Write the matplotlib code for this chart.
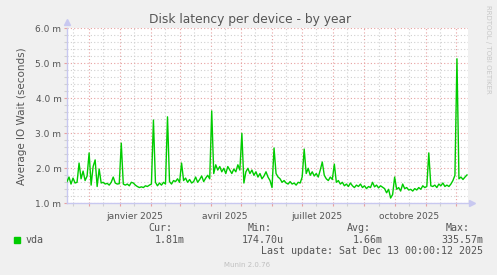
import numpy as np
import pandas as pd
import matplotlib
matplotlib.use("Agg")
import matplotlib.pyplot as plt
import matplotlib.dates as mdates
from matplotlib.ticker import MultipleLocator, FuncFormatter
from matplotlib.patches import Rectangle

# Data (IO wait in milliseconds, one sample every 2 days)
start_date = "2024-11-09"
end_date = "2025-12-13"
vda = [
    1.62, 1.75, 1.55, 1.72, 1.58, 1.60, 2.15, 1.70, 1.92, 1.65,
    1.78, 2.44, 1.52, 2.05, 2.24, 1.48, 1.98, 1.58, 1.60, 1.55,
    1.57, 1.52, 1.60, 1.75, 1.58, 1.55, 1.56, 2.72, 1.55, 1.52,
    1.55, 1.50, 1.60, 1.58, 1.52, 1.48, 1.45, 1.47, 1.45, 1.50,
    1.48, 1.52, 1.55, 3.38, 1.60, 1.50, 1.58, 1.52, 1.60, 1.55,
    3.47, 1.62, 1.55, 1.65, 1.62, 1.70, 1.60, 2.15, 1.65, 1.72,
    1.60, 1.68, 1.58, 1.62, 1.75, 1.60, 1.68, 1.78, 1.62, 1.72,
    1.80, 1.70, 3.64, 1.85, 2.10, 1.95, 2.05, 1.90, 2.00, 1.85,
    2.05, 1.95, 1.85, 1.98, 1.90, 2.10, 1.95, 3.00, 1.58, 1.90,
    2.00, 1.85, 1.95, 1.80, 1.90, 1.75, 1.85, 1.70, 1.78, 1.90,
    1.75, 1.65, 1.45, 2.58, 1.85, 1.75, 1.70, 1.60, 1.65, 1.58,
    1.55, 1.62, 1.55, 1.58, 1.52, 1.60, 1.58, 1.75, 2.55, 1.85,
    2.00, 1.80, 1.90, 1.78, 1.85, 1.75, 1.95, 2.18, 1.80, 1.70,
    1.65, 1.75, 1.68, 2.12, 1.60, 1.65, 1.55, 1.60, 1.50, 1.55,
    1.48, 1.58, 1.50, 1.45, 1.52, 1.48, 1.55, 1.45, 1.50, 1.42,
    1.48, 1.45, 1.60, 1.47, 1.52, 1.44, 1.50, 1.46, 1.42, 1.30,
    1.40, 1.15, 1.25, 1.75, 1.40, 1.45, 1.35, 1.55, 1.42, 1.45,
    1.38, 1.40, 1.35, 1.42, 1.38, 1.45, 1.40, 1.50, 1.45, 1.48,
    2.44, 1.50, 1.48, 1.52, 1.45, 1.55, 1.50, 1.58, 1.48, 1.52,
    1.48, 1.55, 1.65, 1.80, 5.13, 1.70, 1.75, 1.68, 1.75, 1.81,
]
label_months = [1, 4, 7, 10]
month_names = {1: "janvier", 4: "avril", 7: "juillet", 10: "octobre"}
legend_headers = ["Cur:", "Min:", "Avg:", "Max:"]
legend_values = ["1.81m", "174.70u", "1.66m", "335.57m"]

dates = pd.date_range(start_date, periods=len(vda), freq="2D")

bg = "#f0f0f0"
fig = plt.figure(figsize=(4.97, 2.75), dpi=100, facecolor=bg)
ax = fig.add_axes([67 / 497, 1 - 203.3 / 275, 401 / 497, 175 / 275])
ax.set_facecolor("white")

ax.plot(dates, vda, color="#00cc00", lw=1.0, zorder=3)

ax.set_xlim(pd.Timestamp(start_date), pd.Timestamp(end_date))
ax.set_ylim(1.0, 6.0)

# y grid
ax.yaxis.set_major_locator(MultipleLocator(1.0))
ax.yaxis.set_minor_locator(MultipleLocator(0.2))
ax.yaxis.set_major_formatter(FuncFormatter(lambda v, p: "%.1f m" % v))

# x grid: month starts (major), mid-month (minor, labelled quarterly)
ax.xaxis.set_major_locator(mdates.MonthLocator())
ax.xaxis.set_minor_locator(mdates.MonthLocator(bymonthday=15))
ax.xaxis.set_major_formatter(FuncFormatter(lambda v, p: ""))


def minor_label(v, p):
    d = mdates.num2date(v)
    if d.month in label_months:
        return "%s %d" % (month_names[d.month], d.year)
    return ""


ax.xaxis.set_minor_formatter(FuncFormatter(minor_label))

ax.grid(which="major", color="#e8a0a0", ls=(0, (1, 2)), lw=0.8, zorder=1)
ax.grid(which="minor", color="#d0d0d0", ls=(0, (1, 2)), lw=0.8, zorder=1)

ax.tick_params(which="both", length=2, width=0.8, colors="#e8a0a0",
               labelcolor="#555555", labelsize=6.5, pad=2)
ax.tick_params(axis="y", which="minor", length=2, colors="#d0d0d0")
ax.tick_params(axis="x", which="minor", length=2, colors="#d0d0d0",
               labelcolor="#555555", labelsize=6.5, pad=4)

for s in ["top", "right"]:
    ax.spines[s].set_visible(False)
for s in ["left", "bottom"]:
    ax.spines[s].set_color("#c8c8f0")
    ax.spines[s].set_linewidth(1.0)

# axis arrows
ax.plot([0], [1.035], marker="^", ms=4, color="#c8c8f0", transform=ax.transAxes, clip_on=False)
ax.plot([1.01], [0], marker=">", ms=4, color="#c8c8f0", transform=ax.transAxes, clip_on=False)

ax.set_ylabel("Average IO Wait (seconds)", fontsize=7.5, color="#555555", labelpad=6)

fig.text(0.503, 1 - 19 / 275, "Disk latency per device - by year",
         ha="center", va="center", fontsize=8.8, color="#555555")
fig.text(488 / 497, 1 - 5 / 275, "RRDTOOL / TOBI OETIKER", rotation=270,
         ha="center", va="top", fontsize=5, color="#c8c8c8")

# legend
mono = "DejaVu Sans Mono"
fig.patches.append(Rectangle((14 / 497, 1 - 243 / 275), 6 / 497, 6 / 275,
                             transform=fig.transFigure, color="#00cc00"))
fig.text(26 / 497, 1 - 240 / 275, "vda", family=mono, fontsize=7.2,
         color="#555555", va="center")
head_right = [172, 272, 371, 470]
val_right = [185, 284, 383, 483]
for h, hx in zip(legend_headers, head_right):
    fig.text(hx / 497, 1 - 228 / 275, h, family=mono, fontsize=7.2,
             color="#555555", ha="right", va="center")
for v, vx in zip(legend_values, val_right):
    fig.text(vx / 497, 1 - 240 / 275, v, family=mono, fontsize=7.2,
             color="#555555", ha="right", va="center")
fig.text(483 / 497, 1 - 251 / 275, "Last update: Sat Dec 13 00:00:12 2025",
         family=mono, fontsize=7.2, color="#555555", ha="right", va="center")
fig.text(247 / 497, 1 - 265 / 275, "Munin 2.0.76", fontsize=5,
         color="#c0c0c0", ha="center", va="center")

fig.savefig("out.png", dpi=100, facecolor=bg)
